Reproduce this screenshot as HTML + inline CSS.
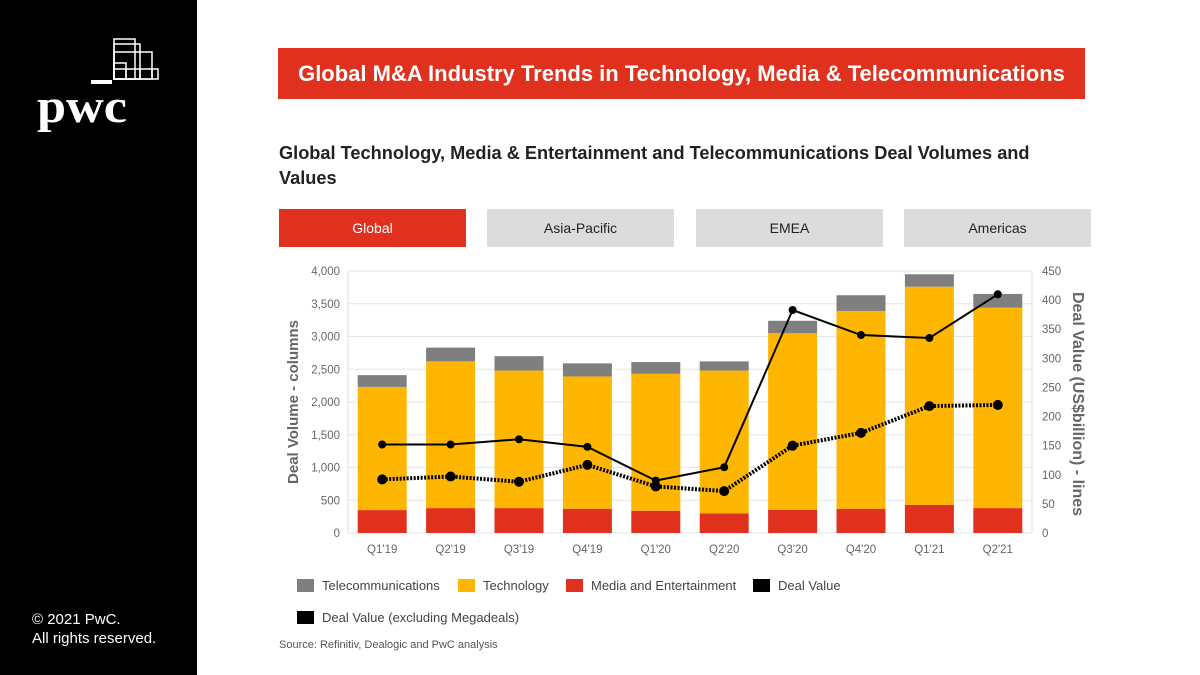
<!DOCTYPE html>
<html><head><meta charset="utf-8"><style>
body{margin:0;width:1200px;height:675px;background:#fff;font-family:"Liberation Sans",Arial,sans-serif;position:relative;overflow:hidden}
.side{position:absolute;left:0;top:0;width:197px;height:675px;background:#000}
.abs{position:absolute}
.tab{position:absolute;top:209px;width:187px;height:38px;line-height:38px;text-align:center;font-size:14px;background:#dcdcdc;color:#222}
</style></head><body>
<div class="side">
<svg class="abs" style="left:0;top:0" width="197" height="160">
<g fill="none" stroke="#fff" stroke-width="1.5">
<rect x="114" y="39" width="21" height="40"/><rect x="114" y="44" width="26" height="35"/><rect x="114" y="52" width="38" height="27"/><rect x="114" y="63" width="12" height="16"/><rect x="114" y="69" width="44" height="10"/>
<line x1="126" y1="69" x2="126" y2="79"/><line x1="140" y1="69" x2="140" y2="79"/><line x1="152" y1="69" x2="152" y2="79"/></g>
<rect x="91" y="80" width="21" height="4" fill="#fff"/>
<text x="37" y="122" fill="#fff" font-family="Liberation Serif,serif" font-weight="bold" font-size="48" textLength="90" lengthAdjust="spacingAndGlyphs">pwc</text>
</svg>
<div class="abs" style="left:32px;top:610px;color:#fff;font-size:15px;line-height:19px">© 2021 PwC.<br>All rights reserved.</div>
</div>
<div class="abs" style="left:278px;top:48px;width:807px;height:51px;background:#e0301e;color:#fff;font-size:22px;font-weight:bold;line-height:51px;text-align:center;white-space:nowrap">Global M&amp;A Industry Trends in Technology, Media &amp; Telecommunications</div>
<div class="abs" style="left:279px;top:141px;width:790px;font-size:18.2px;font-weight:bold;color:#222;line-height:25px">Global Technology, Media &amp; Entertainment and Telecommunications Deal Volumes and Values</div>
<div class="tab" style="left:279px;background:#e0301e;color:#fff">Global</div>
<div class="tab" style="left:487px">Asia-Pacific</div>
<div class="tab" style="left:696px">EMEA</div>
<div class="tab" style="left:904px">Americas</div>
<svg id="chart" class="abs" style="left:0;top:0" width="1200" height="675"></svg>
<div class="abs" style="left:279px;top:639px;font-size:11px;color:#555">Source: Refinitiv, Dealogic and PwC analysis</div>
<script>
const categories=["Q1'19","Q2'19","Q3'19","Q4'19","Q1'20","Q2'20","Q3'20","Q4'20","Q1'21","Q2'21"];
const media=[350,380,380,370,340,300,355,370,430,380];
const technology=[1880,2240,2100,2020,2090,2180,2695,3020,3330,3060];
const telecom=[180,210,220,200,180,140,190,240,190,210];
const dealValue=[152,152,161,148,90,113,383,340,335,410];
const dealValueExMega=[92,97,88,117,80,72,150,172,218,220];
const leftTicks=[0,500,1000,1500,2000,2500,3000,3500,4000];
const rightTicks=[0,50,100,150,200,250,300,350,400,450];
const NS="http://www.w3.org/2000/svg",svg=document.getElementById('chart');
const L=348,R=1032,T=271,B=533,slot=(R-L)/categories.length,bw=49;
const yL=v=>B-(B-T)*v/4000, yR=v=>B-(B-T)*v/450, xC=i=>L+slot*(i+0.5);
function mk(t,a,p){const e=document.createElementNS(NS,t);for(const k in a)e.setAttribute(k,a[k]);(p||svg).appendChild(e);return e;}
leftTicks.forEach(v=>{
const g=mk('line',{x1:L,x2:R,y1:yL(v),y2:yL(v),stroke:'#e6e6e6'});


const t=mk('text',{x:L-8,y:yL(v)+4,'text-anchor':'end','font-size':11.5,fill:'#666'});t.textContent=v.toLocaleString('en-US');


});
rightTicks.forEach(v=>{
const t=mk('text',{x:R+10,y:yR(v)+4,'font-size':11.5,fill:'#666'});t.textContent=v;


});
mk('line',{x1:L,x2:L,y1:T,y2:B,stroke:'#ddd'});mk('line',{x1:R,x2:R,y1:T,y2:B,stroke:'#ddd'});
categories.forEach((c,i)=>{
const x=xC(i)-bw/2;let base=0;
[[media,'#e0301e','bar-media'],[technology,'#ffb600','bar-technology'],[telecom,'#7f7f7f','bar-telecom']].forEach(([arr,col,nm])=>{
const r=mk('rect',{x:x,width:bw,y:yL(base+arr[i]),height:yL(base)-yL(base+arr[i]),fill:col});


base+=arr[i];});
const t=mk('text',{x:xC(i),y:B+20,'text-anchor':'middle','font-size':11.5,fill:'#666'});t.textContent=c;


});
const ex=mk('polyline',{points:dealValueExMega.map((v,i)=>xC(i)+','+yR(v)).join(' '),fill:'none',stroke:'#000','stroke-width':4,'stroke-dasharray':'2 1.5'});


dealValueExMega.forEach((v,i)=>{const c=mk('circle',{cx:xC(i),cy:yR(v),r:5,fill:'#000'});

});
const dl=mk('polyline',{points:dealValue.map((v,i)=>xC(i)+','+yR(v)).join(' '),fill:'none',stroke:'#000','stroke-width':2});


dealValue.forEach((v,i)=>{const c=mk('circle',{cx:xC(i),cy:yR(v),r:4,fill:'#000'});

});
const yt=mk('text',{transform:'translate(298,402) rotate(-90)','text-anchor':'middle','font-size':15,'font-weight':'bold',fill:'#666'});yt.textContent='Deal Volume - columns';


const yt2=mk('text',{transform:'translate(1073,404) rotate(90)','text-anchor':'middle','font-size':16,'font-weight':'bold',fill:'#666'});yt2.textContent='Deal Value (US$billion) - lines';


[[297,579,'#7f7f7f','Telecommunications','legend-telecom'],[458,579,'#ffb600','Technology','legend-technology'],[566,579,'#e0301e','Media and Entertainment','legend-media'],[753,579,'#000','Deal Value','legend-deal-value'],[297,611,'#000','Deal Value (excluding Megadeals)','legend-deal-value-ex-megadeals']].forEach(([x,y,c,l,n])=>{
const g=mk('g',{});


mk('rect',{x:x,y:y,width:17,height:13,fill:c},g);
const t=mk('text',{x:x+25,y:y+11,'font-size':13,fill:'#444'},g);t.textContent=l;});
</script>
</body></html>
